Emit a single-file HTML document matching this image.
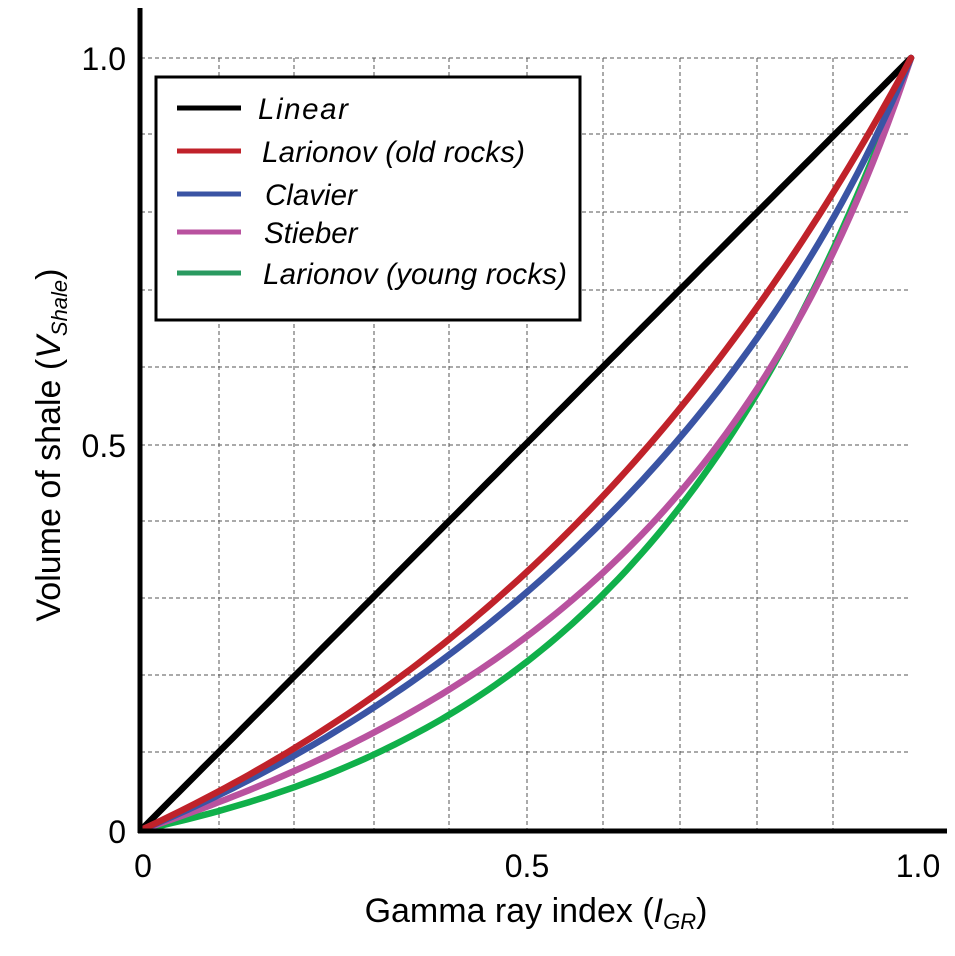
<!DOCTYPE html>
<html><head><style>body{margin:0;background:#fff}svg{display:block}</style></head>
<body>
<svg id="s" width="955" height="956" xmlns="http://www.w3.org/2000/svg" font-family="Liberation Sans, sans-serif">
<rect width="955" height="956" fill="#fff"/>
<g id="grid" stroke="#555" stroke-width="1" stroke-dasharray="4,3"></g>
<g id="curves" fill="none" stroke-width="6.5" stroke-linejoin="round" stroke-linecap="round"></g>
<line x1="140" y1="8" x2="140" y2="833" stroke="#000" stroke-width="5"/>
<line x1="138" y1="831" x2="947" y2="831" stroke="#000" stroke-width="5"/>
<g font-size="32" fill="#000">
<text x="126" y="70" text-anchor="end">1.0</text>
<text x="126" y="457" text-anchor="end">0.5</text>
<text x="126" y="843" text-anchor="end">0</text>
<text x="143" y="877" text-anchor="middle">0</text>
<text x="527" y="877" text-anchor="middle">0.5</text>
<text x="918" y="877" text-anchor="middle">1.0</text>
</g>
<g font-size="34" fill="#000">
<text x="536" y="922" text-anchor="middle">Gamma ray index (<tspan font-style="italic">I</tspan><tspan font-style="italic" font-size="22" dy="7">GR</tspan><tspan dy="-7">)</tspan></text>
<text transform="translate(60,445) rotate(-90)" text-anchor="middle">Volume of shale (<tspan font-style="italic">V</tspan><tspan font-style="italic" font-size="22" dy="7">Shale</tspan><tspan dy="-7">)</tspan></text>
</g>
<rect x="156" y="77" width="424" height="243" fill="#fff" stroke="#000" stroke-width="3"/>
<g stroke-width="5">
<line x1="177" y1="108" x2="241" y2="108" stroke="#000"/>
<line x1="177" y1="151" x2="241" y2="151" stroke="#c0222a"/>
<line x1="177" y1="194" x2="241" y2="194" stroke="#3a54a4"/>
<line x1="177" y1="232" x2="241" y2="232" stroke="#b9529f"/>
<line x1="177" y1="273" x2="241" y2="273" stroke="#2a9a60"/>
</g>
<g font-size="29.5" font-style="italic" fill="#000">
<text x="258" y="119" textLength="90">Linear</text>
<text x="262" y="162" textLength="263">Larionov (old rocks)</text>
<text x="265" y="205">Clavier</text>
<text x="264" y="243">Stieber</text>
<text x="263" y="284" textLength="304">Larionov (young rocks)</text>
</g>
<script>
var g=document.getElementById('grid'),c=document.getElementById('curves'),ns='http://www.w3.org/2000/svg';
var xs=[219,294,374,449,527,603,680,757,833],ys=[58,134,212,290,367,445,521,598,675,752];
xs.forEach(function(x){var l=document.createElementNS(ns,'line');l.setAttribute('x1',x);l.setAttribute('x2',x);l.setAttribute('y1',58);l.setAttribute('y2',830);g.appendChild(l);});
ys.forEach(function(y){var l=document.createElementNS(ns,'line');l.setAttribute('x1',141);l.setAttribute('x2',911);l.setAttribute('y1',y);l.setAttribute('y2',y);g.appendChild(l);});
var fs=[[function(i){return i},'#000'],
[function(i){return 0.083*(Math.pow(2,3.7*i)-1)/(0.083*(Math.pow(2,3.7)-1))},'#10b04a'],
[function(i){return i/(3-2*i)},'#b9529f'],
[function(i){return (1.7-Math.sqrt(3.38-(i+0.7)*(i+0.7)))/(1.7-Math.sqrt(3.38-2.89))},'#3a54a4'],
[function(i){return 0.33*(Math.pow(2,2*i)-1)/0.99},'#c0222a']];
fs.forEach(function(f){var d='';for(var k=0;k<=100;k++){var i=k/100;var x=141+i*770,y=830-f[0](i)*772;d+=(k?'L':'M')+x.toFixed(1)+','+y.toFixed(1);}
var p=document.createElementNS(ns,'path');p.setAttribute('d',d);p.setAttribute('stroke',f[1]);c.appendChild(p);});
</script>
</svg>
</body></html>
